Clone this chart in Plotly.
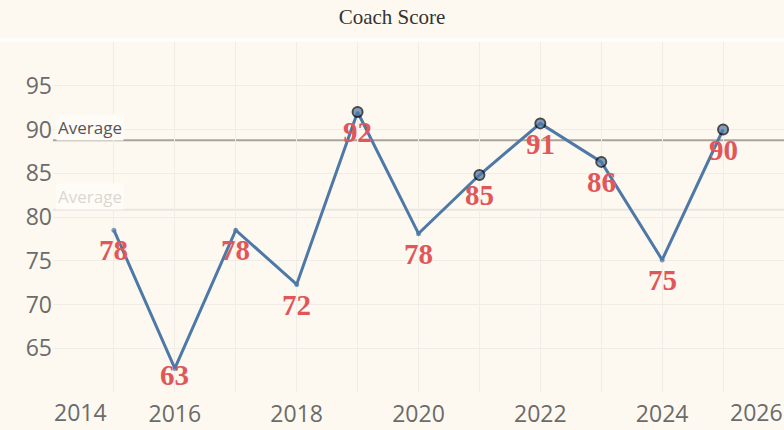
import numpy as np
import plotly.graph_objs as go

# Coach score per season
years = [2015, 2016, 2017, 2018, 2019, 2020, 2021, 2022, 2023, 2024, 2025]
scores = [78.5, 62.7, 78.5, 72.3, 92.0, 78.1, 84.8, 90.7, 86.3, 75.1, 90.0]
score_labels = ["78", "63", "78", "72", "92", "78", "85", "91", "86", "75", "90"]

# x axis: a gridline every year, labels every two years
x_ticks = list(range(2014, 2027))
x_tick_labels = ["", "", "2016", "", "2018", "", "2020", "", "2022", "", "2024", "", ""]
x_edge_labels = {2014: "2014", 2026: "2026"}
y_ticks = [65, 70, 75, 80, 85, 90, 95]

bg = "#FDF9F1"
grid = "#F0EDE7"
blue = "#4E79A7"
red = "#E15759"
tick_font = dict(family="Open Sans", size=23, color="#6B6B6B")

scores_arr = np.array(scores)
avg_all = scores_arr.mean()
above = scores_arr > avg_all
avg_above = scores_arr[above].mean()

fig = go.Figure()

fig.add_trace(go.Scatter(
    x=years, y=scores, mode="lines+markers",
    line=dict(color=blue, width=3),
    marker=dict(size=[10 if a else 5 for a in above], color=blue,
                line=dict(color=["black" if a else blue for a in above], width=[2 if a else 0 for a in above])),
    hoverinfo="x+y", showlegend=False,
))

# reference lines
fig.add_shape(type="line", xref="paper", yref="y", x0=0, x1=1, y0=avg_all, y1=avg_all,
              line=dict(color="#E8E5DF", width=2), layer="below")
fig.add_shape(type="line", xref="paper", yref="y", x0=0, x1=1, y0=avg_above, y1=avg_above,
              line=dict(color="#A9A49B", width=2), layer="below")
for val, col in [(avg_all, "#DAD7D1"), (avg_above, "#555555")]:
    fig.add_annotation(x=0, xref="paper", y=val, yref="y", yshift=13, xshift=3,
                       text="Average", showarrow=False, xanchor="left", yanchor="middle",
                       font=dict(family="Open Sans", size=17, color=col),
                       bgcolor="#FFFCF8")

# white separator under the title band
fig.add_shape(type="line", xref="paper", yref="paper", x0=-0.08, x1=1.01, y0=1.006, y1=1.006,
              line=dict(color="white", width=3))

# value labels below each point, kept inside the plot
for x, v, t in zip(years, scores, score_labels):
    fig.add_annotation(x=x, y=max(v - 2.3, 61.9), text=t, showarrow=False,
                       font=dict(family="Liberation Serif", size=29, color=red, weight="bold"),
                       yanchor="middle")

# edge year labels pushed inside the plot like the original
for x, t in x_edge_labels.items():
    fig.add_annotation(x=x, xref="x", y=0, yref="paper", yshift=-20, text=t, showarrow=False,
                       xanchor="left" if x == 2014 else "right", yanchor="middle",
                       borderpad=0, font=tick_font)

fig.update_layout(
    width=784, height=430,
    margin=dict(l=53, r=0, t=42, b=38),
    paper_bgcolor=bg, plot_bgcolor=bg,
    title=dict(text="Coach Score", x=0.5, xanchor="center", y=1 - 17 / 430, yanchor="middle",
               yref="container", font=dict(family="Liberation Serif", size=21, color="#333333")),
    xaxis=dict(range=[2014, 2026], tickvals=x_ticks, ticktext=x_tick_labels,
               showgrid=True, gridcolor=grid, gridwidth=1, zeroline=False, showline=False,
               ticklabelstandoff=6, tickfont=tick_font),
    yaxis=dict(range=[60, 100], tickvals=y_ticks, showgrid=True, gridcolor=grid, gridwidth=1,
               zeroline=False, showline=False, tickfont=tick_font),
)

fig.write_html("out.html", config={"displayModeBar": False},
               post_script="document.body.style.margin='0';")
